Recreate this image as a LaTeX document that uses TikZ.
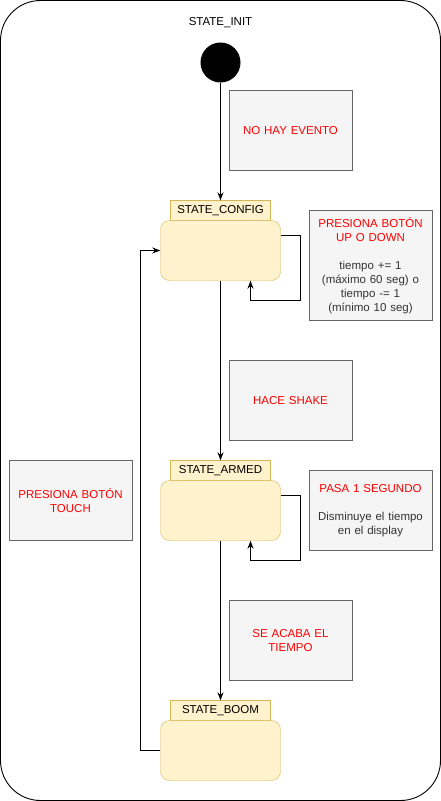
\documentclass[tikz,border=0pt]{standalone}
\usepackage{fontspec}
\setmainfont{Liberation Sans}
\usepackage[table]{xcolor}
\usepackage{tikz}
\usetikzlibrary{arrows.meta,backgrounds,calc}
\definecolor{statefill}{HTML}{FFF2CC}
\definecolor{statedraw}{HTML}{D6B656}
\definecolor{notefill}{HTML}{F5F5F5}
\definecolor{notedraw}{HTML}{666666}
\definecolor{notetext}{HTML}{333333}
\definecolor{evred}{HTML}{FF0000}
\tikzset{
  statebox/.style={draw=statedraw,fill=statefill,rounded corners=9pt,minimum width=120pt,minimum height=60pt},
  tabbox/.style={draw=statedraw,fill=statefill,minimum width=100pt,minimum height=20pt,inner sep=0pt},
  notebox/.style={draw=notedraw,fill=notefill,text=notetext,minimum width=120pt,align=center,text width=116pt},
  arr/.style={-{Stealth[length=8pt,width=6pt]},line width=0.9pt},
  ev/.style={text=evred}
}
\begin{document}
\begin{tikzpicture}[x=1pt,y=-1pt,font=\fontsize{11.5}{14}\selectfont]
\useasboundingbox (-0.5,-0.5) rectangle (440.5,800.5);
\draw[line width=0.9pt,rounded corners=40pt] (0,0) rectangle (440,800);
\node (initlabel) at (220,22) {STATE\_INIT};
\node[circle,fill=black,minimum size=40pt,inner sep=0pt] (init) at (220,62) {};
\node[notebox,minimum height=80pt] (noevent) at (290,130) {\textcolor{evred}{NO HAY EVENTO}};
\node[tabbox] (configtab) at (220,210) {STATE\_CONFIG};
\node[statebox] (config) at (220,250) {};
\node[notebox,minimum height=110pt] (updown) at (370,265) {\textcolor{evred}{PRESIONA BOTÓN\\UP O DOWN}\\[14pt]tiempo += 1\\(máximo 60 seg) o\\tiempo -= 1\\(mínimo 10 seg)};
\node[notebox,minimum height=80pt] (shake) at (290,400) {\textcolor{evred}{HACE SHAKE}};
\node[tabbox] (armedtab) at (220,470) {STATE\_ARMED};
\node[statebox] (armed) at (220,510) {};
\node[notebox,minimum height=80pt] (second) at (370,510) {\textcolor{evred}{PASA 1 SEGUNDO}\\[14pt]Disminuye el tiempo\\en el display};
\node[notebox,minimum height=80pt] (touch) at (70,500) {\textcolor{evred}{PRESIONA BOTÓN\\TOUCH}};
\node[notebox,minimum height=80pt] (timeout) at (290,640) {\textcolor{evred}{SE ACABA EL\\TIEMPO}};
\node[tabbox] (boomtab) at (220,710) {STATE\_BOOM};
\node[statebox] (boom) at (220,750) {};
\coordinate (cfgloop) at (300,300);
\coordinate (armloop) at (300,560);
\draw[arr] (init) -- (configtab);
\draw[arr] ([yshift=15pt]config.east) -| (cfgloop) -| ([xshift=30pt]config.south);
\draw[arr] (config) -- (armedtab);
\draw[arr] ([yshift=15pt]armed.east) -| (armloop) -| ([xshift=30pt]armed.south);
\draw[arr] (armed) -- (boomtab);
\draw[arr] (boom.west) -- ++(-20,0) |- (config.west);
\end{tikzpicture}
\end{document}
